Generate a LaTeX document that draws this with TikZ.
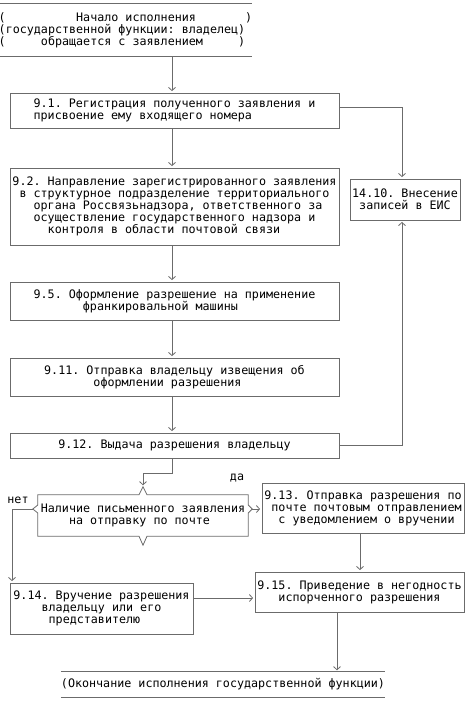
\documentclass[tikz,border=0pt]{standalone}
\usepackage{fontspec}
\setmonofont{DejaVu Sans Mono}
\usetikzlibrary{arrows.meta}
\definecolor{lc}{gray}{0.42}
\begin{document}
\begin{tikzpicture}[x=1pt,y=-1pt,
  txt/.style={font=\ttfamily\fontsize{11.7}{11.9}\selectfont, align=left, inner sep=0pt, text=black},
  box/.style 2 args={txt, draw=lc, line width=0.8pt, minimum width=#1, minimum height=#2},
  ln/.style={draw=lc, line width=0.8pt},
  arr/.style={ln, -{Straight Barb[length=3.2pt,width=7pt]}, shorten >=1.5pt}]
\useasboundingbox (0,0) rectangle (475,705);

% nodes
\node[txt, minimum width=245, minimum height=52] (start) at (125.5,30)
  {(~~~~~~~~~~Начало исполнения~~~~~~~)\\(государственной функции: владелец)\\(~~~~~обращается с заявлением~~~~~)};
\draw[ln] (start.north west) -- (start.north east);
\draw[ln] (start.south west) -- (start.south east);

\node[box={329}{35}] (n91) at (174.5,110.5)
  {9.1. Регистрация полученного заявления и\\присвоение ему входящего номера};
\node[box={329}{77}] (n92) at (174.5,206.5)
  {9.2. Направление зарегистрированного заявления\\~в структурное подразделение территориального\\~~~органа Россвязьнадзора, ответственного за\\~~~осуществление государственного надзора и\\~~~~~контроля в области почтовой связи};
\node[box={329}{38}] (n95) at (174.5,301)
  {9.5. Оформление разрешение на применение\\~~~~~~~франкировальной машины};
\node[box={329}{38}] (n911) at (174.5,377)
  {9.11. Отправка владельцу извещения об\\~~~~~~~оформлении разрешения};
\node[box={329}{25}] (n912) at (174.5,445.5)
  {9.12. Выдача разрешения владельцу};
\node[box={110}{41}] (n1410) at (405,199.5)
  {14.10. Внесение\\~записей в ЕИС};

\node[txt, minimum width=210, minimum height=41] (dec) at (143,515.5)
  {Наличие письменного заявления\\~~~~на отправку по почте};
\draw[ln] (dec.north west) -- ([xshift=-4pt]dec.north) -- ([yshift=8pt]dec.north)
  -- ([xshift=4pt]dec.north) -- (dec.north east) -- ([yshift=10.5pt]dec.east)
  -- ([xshift=4pt,yshift=6.5pt]dec.east) -- ([yshift=2.5pt]dec.east)
  -- (dec.south east) -- ([xshift=4pt]dec.south) -- ([yshift=-9pt]dec.south)
  -- ([xshift=-4pt]dec.south) -- (dec.south west) -- ([yshift=2.5pt]dec.west)
  -- ([xshift=-5pt,yshift=6.5pt]dec.west) -- ([yshift=10.5pt]dec.west) -- cycle;

\node[box={202}{50}] (n913) at (363,508)
  {9.13. Отправка разрешения по\\~почте почтовым отправлением\\~~с уведомлением о вручении};
\node[box={183}{51}] (n914) at (101.5,608.5)
  {9.14. Вручение разрешения\\~~~~владельцу или его\\~~~~~представителю};
\node[box={209}{40}] (n915) at (359.5,592)
  {9.15. Приведение в негодность\\~~~испорченного разрешения};

\node[txt, minimum width=320, minimum height=25] (end) at (223,684.5)
  {(Окончание исполнения государственной функции)};
\draw[ln] (end.north west) -- (end.north east);
\draw[ln] (end.south west) -- (end.south east);

\node[txt] (da) at (237,478) {да};
\node[txt] (net) at (18,500) {нет};

% helper coordinates
\coordinate (cx) at (172,0);
\coordinate (vx) at (402,0);
\coordinate (lx) at (12,0);
\coordinate (mx) at (360,0);
\coordinate (ex) at (337,0);
\coordinate (j1) at (0,473);
\coordinate (h) at (0,598);
\coordinate (rt) at ([xshift=4pt,yshift=6.5pt]dec.east);
\coordinate (lt) at ([xshift=-5pt,yshift=6.5pt]dec.west);
\coordinate (r91) at ([yshift=3.5pt]n91.east);

% connectors
\draw[arr] (start.south -| cx) -- (n91.north -| cx);
\draw[arr] (n91.south -| cx) -- (n92.north -| cx);
\draw[arr] (n92.south -| cx) -- (n95.north -| cx);
\draw[arr] (n95.south -| cx) -- (n911.north -| cx);
\draw[arr] (n911.south -| cx) -- (n912.north -| cx);
\draw[arr] (r91) -| (n1410.north -| vx);
\draw[arr] (n912.east) -| (n1410.south -| vx);
\draw[arr] (n912.south -| cx) -- (j1 -| cx) -- (j1 -| dec.north) -- ([yshift=8pt]dec.north);
\draw[arr] (rt) -- (rt -| n913.west);
\draw[arr] (lt) -| (n914.north -| lx);
\draw[arr] (n913.south -| mx) -- (n915.north -| mx);
\draw[arr] (n914.east |- h) -- (n915.west |- h);
\draw[arr] (n915.south -| ex) -- (end.north -| ex);
\end{tikzpicture}
\end{document}
